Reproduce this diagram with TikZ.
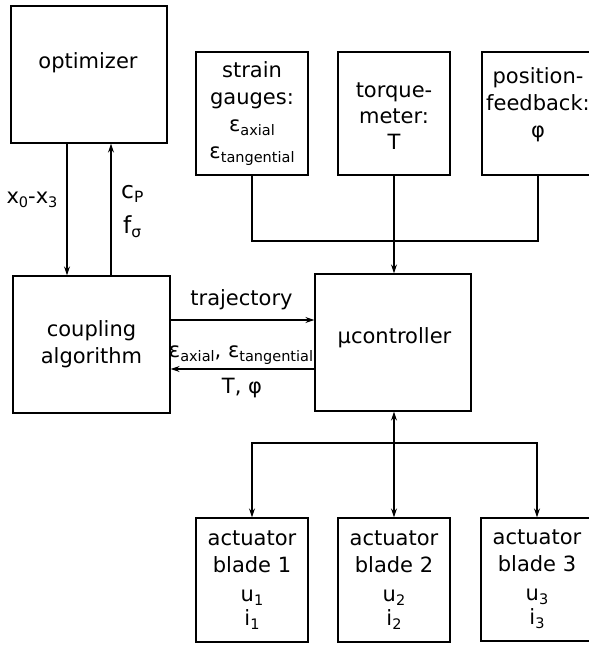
\documentclass[tikz,border=0pt]{standalone}
\usepackage{fontspec}
\setmainfont{DejaVu Sans}
\usetikzlibrary{arrows.meta}
\newcommand\sbs[1]{\raisebox{-4pt}{\fontsize{14.5}{14.5}\selectfont #1}}
\newcommand\sbl[1]{\raisebox{-4pt}{\fontsize{15.5}{15.5}\selectfont #1}}
\begin{document}
\begin{tikzpicture}[x=1pt,y=-1pt,
  box/.style={draw, line width=1.3pt, inner sep=0pt, align=center, font=\fontsize{21}{27}\selectfont},
  txt/.style={inner sep=0pt, align=center, font=\fontsize{21}{27}\selectfont},
  conn/.style={line width=1.3pt},
  tip/.tip={Stealth[length=9pt,width=6pt,inset=3pt]},
  arr/.style={conn, -tip},
  darr/.style={conn, tip-tip}]
\useasboundingbox (0,0) rectangle (589,646);

% boxes
\node[box, minimum width=156pt, minimum height=137pt] (opt) at (89,74.5) {};
\node[txt, anchor=base] (optT) at (88,68) {optimizer};

\node[box, minimum width=112pt, minimum height=123pt] (sg) at (252,113.5)
  {strain\\gauges:\\ε\sbs{axial}\\ε\sbs{tangential}};
\node[box, minimum width=112pt, minimum height=123pt] (tq) at (394,113.5) {};
\node[txt, font=\fontsize{21}{26}\selectfont] (tqT) at (394,116) {torque-\\meter:\\T};
\node[box, minimum width=112pt, minimum height=123pt] (pf) at (538,113.5) {};
\node[txt] (pfT) at (538,104.5) {position-\\feedback:\\φ};

\node[box, minimum width=157pt, minimum height=137pt] (coup) at (91.5,344.5)
  {coupling\\algorithm};
\node[box, minimum width=156pt, minimum height=137pt] (ctrl) at (393,342.5) {};
\node[txt, anchor=base] (ctrlT) at (394.5,343) {µcontroller};

\node[box, minimum width=112pt, minimum height=124pt] (b1) at (252,580)
  {actuator\\blade 1\\[2pt]u\sbs{1}\\[-3pt]i\sbs{1}};
\node[box, minimum width=112pt, minimum height=124pt] (b2) at (394,580)
  {actuator\\blade 2\\[2pt]u\sbs{2}\\[-3pt]i\sbs{2}};
\node[box, minimum width=112pt, minimum height=123pt] (b3) at (537,579.5)
  {actuator\\blade 3\\[2pt]u\sbs{3}\\[-3pt]i\sbs{3}};

% helper coordinates
\coordinate (xdown) at (67,0);
\coordinate (xup) at (111,0);
\coordinate (ytraj) at (0,320);
\coordinate (yback) at (0,369);
\coordinate (j1) at (394,241);
\coordinate (j2) at (394,443);

% optimizer <-> coupling
\draw[arr] (opt.south -| xdown) -- (coup.north -| xdown);
\draw[arr] (coup.north -| xup) -- (opt.south -| xup);
\node[txt, anchor=base] (xlab) at (32,203) {x\sbs{0}-x\sbs{3}};
\node[txt, anchor=base west, font=\fontsize{23.5}{30}\selectfont] (cplab) at (121,198) {c\sbl{P}};
\node[txt, anchor=base west, font=\fontsize{23.5}{30}\selectfont] (flab) at (123,233) {f\sbl{σ}};

% sensors -> controller
\draw[conn] (sg.south) |- (j1) -| (pf.south);
\draw[arr] (tq.south) -- (ctrl.north -| tq.south);

% coupling <-> controller
\draw[arr] (coup.east |- ytraj) -- (ctrl.west |- ytraj);
\draw[arr] (ctrl.west |- yback) -- (coup.east |- yback);
\node[txt, anchor=base] (trajT) at (241.5,305) {trajectory};
\node[txt, anchor=base] (epsT) at (241,357) {ε\sbs{axial}, ε\sbs{tangential}};
\node[txt, anchor=base] (tphiT) at (242,393) {T, φ};

% controller <-> actuators
\draw[darr] (ctrl.south -| b2.north) -- (b2.north);
\draw[arr] (j2) -| (b1.north);
\draw[arr] (j2) -| (b3.north);
\end{tikzpicture}
\end{document}
